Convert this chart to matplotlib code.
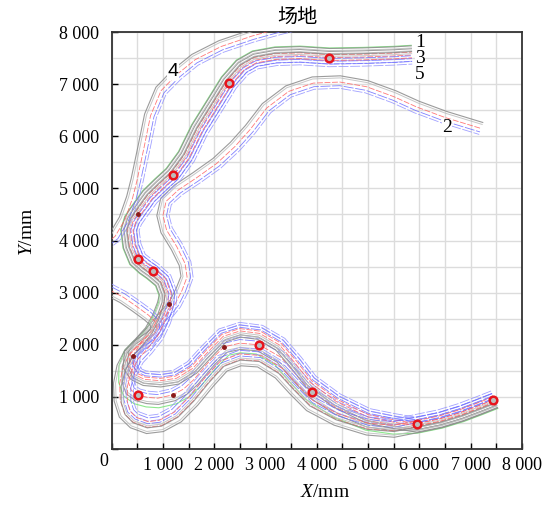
import numpy as np
import matplotlib
matplotlib.use('Agg')
import matplotlib.pyplot as plt
from matplotlib.ticker import MultipleLocator, FuncFormatter

plt.rcParams['font.family'] = ['Liberation Serif', 'Noto Sans CJK SC']
plt.rcParams['mathtext.fontset'] = 'custom'
plt.rcParams['mathtext.it'] = 'Liberation Serif:italic'
plt.rcParams['mathtext.rm'] = 'Liberation Serif'

# path centre lines (mm)
START = [(7460, 950), (7150, 830), (6800, 700), (6400, 580), (5945, 488)]
BAND_M = [(5500, 470), (5000, 540), (4400, 780), (3899, 1098), (3600, 1420), (3300, 1760),
          (2877, 1998), (2500, 2030), (2190, 1960), (1900, 1680), (1600, 1330), (1400, 1150),
          (1195, 1040), (900, 975), (700, 990), (507, 1040)]
BAND_T = [(5500, 560), (5000, 660), (4400, 950), (3900, 1310), (3600, 1690), (3300, 2030),
          (2900, 2260), (2500, 2310), (2150, 2200), (1850, 1900), (1550, 1580), (1250, 1400),
          (950, 1355), (650, 1380)]
BAND_B = [(5500, 400), (5000, 440), (4400, 620), (3900, 880), (3600, 1180), (3300, 1500),
          (2900, 1740), (2500, 1770), (2150, 1640), (1850, 1320), (1550, 960), (1250, 660),
          (950, 500), (700, 470), (450, 560)]
MAIN_LOW = [(380, 1130), (320, 1300), (324, 1566), (409, 1792), (540, 1920), (682, 2017),
            (877, 2274), (1006, 2530), (1100, 2788)]
B_LEFT_3 = [(300, 700), (220, 950), (210, 1250), (270, 1550), (400, 1800), (600, 2000),
            (800, 2220), (950, 2480), (1060, 2760)]
B_LEFT_5 = [(320, 690), (250, 900), (250, 1200), (330, 1500), (470, 1760), (650, 1950),
            (850, 2200), (980, 2470), (1080, 2760)]
MAIN_S = [(1104, 2981), (1006, 3237), (799, 3416), (650, 3520), (507, 3642), (400, 3900),
          (360, 4200), (420, 4380), (507, 4509), (746, 4836), (960, 5040)]
MAIN_UP = [(1201, 5260), (1460, 5610), (1720, 6130), (2050, 6650), (2287, 7027), (2550, 7320),
           (2800, 7460), (3200, 7530), (3670, 7545), (4242, 7509), (4900, 7520), (5500, 7540),
           (5850, 7560)]
P2_MID = [(500, 1450), (420, 1620), (450, 1850), (580, 2050), (780, 2250), (950, 2450),
          (1100, 2620), (1240, 2790), (1370, 3040), (1470, 3300), (1430, 3560), (1270, 3880),
          (1070, 4200), (1000, 4480), (1060, 4750), (1300, 4970)]
P2_UP = [(1650, 5200), (2050, 5480), (2400, 5800), (2700, 6130), (3020, 6540), (3450, 6860),
         (3930, 7020), (4450, 7040), (4970, 6950), (5500, 6760), (5950, 6560), (6500, 6360),
         (7200, 6150)]
P4_MID = [(480, 1460), (380, 1600), (400, 1800), (550, 1950), (780, 2100), (920, 2250),
          (900, 2450), (750, 2600), (500, 2780), (250, 2950), (0, 3080), (-300, 3250),
          (-500, 3550), (-350, 3800), (-100, 3900)]
P4_UP = [(100, 4050), (300, 4380), (450, 4800), (540, 5150), (680, 5800), (800, 6380),
         (1000, 6850), (1300, 7150), (1650, 7430), (2150, 7680), (2750, 7880), (3300, 8030),
         (3800, 8150)]

paths = {
    '1': START + BAND_M + MAIN_LOW + MAIN_S + MAIN_UP,
    '2': START + BAND_T + P2_MID + P2_UP,
    '3': START + BAND_B + B_LEFT_3 + MAIN_S + MAIN_UP,
    '4': START + BAND_T + P4_MID + P4_UP,
    '5': START + BAND_B + B_LEFT_5 + MAIN_S + MAIN_UP,
}
shift = {'1': 0, '2': 0, '3': 55, '4': 45, '5': -55}

waypoints = [(7440, 940), (5945, 488), (3899, 1098), (2877, 1998), (507, 1040),
             (507, 3642), (799, 3416), (1201, 5260), (2287, 7027), (4242, 7509)]
dots = [(507, 4509), (1117, 2788), (409, 1792), (1195, 1040), (2190, 1960)]

labels = ['1', '3', '5', '2', '4']
label_pos = [(6010, 7800), (6010, 7495), (6010, 7190), (6540, 6166), (1195, 7245)]

# offset, colour, style, width
layers = [(120, '#8a8a8a', '-', 0.8), (80, '#bdbdbd', '-', 0.7),
          (0, '#ff6060', (0, (7, 2)), 0.6),
          (-70, '#6a6aff', (0, (12, 2)), 0.6), (-120, '#9090ff', (0, (12, 2)), 0.6)]


def normals(pts):
    xy = np.array(pts, float)
    t = np.gradient(xy, axis=0)
    t /= np.hypot(t[:, 0], t[:, 1])[:, None]
    return xy, np.column_stack([-t[:, 1], t[:, 0]])


fig = plt.figure(figsize=(5.51, 5.05), dpi=100)
ax = fig.add_axes([0.2027, 0.1109, 0.7447, 0.8257])

# green outer envelope of path 1
xy, n = normals(paths['1'])
g = xy + n * 185
ax.plot(g[:, 0], g[:, 1], color='#80e680', lw=0.8, alpha=0.9, zorder=2)

for k, pts in paths.items():
    xy, n = normals(pts)
    for d, c, ls, lw in layers:
        o = xy + n * (d + shift[k])
        ax.plot(o[:, 0], o[:, 1], color=c, ls=ls, lw=lw, alpha=0.85, zorder=3)

dx, dy = zip(*dots)
ax.plot(dx, dy, 'o', ms=2.5, color='#8b1a1a', zorder=4)
wx, wy = zip(*waypoints)
ax.plot(wx, wy, 'o', ms=5.5, mfc='#bdbdbd', mec='#e8141c', mew=1.8, zorder=5)

for s, (x, y) in zip(labels, label_pos):
    fam = ['Liberation Sans'] if s == '4' else ['Liberation Serif']
    ax.text(x, y, s, fontsize=14, family=fam, ha='center', va='center', zorder=6,
            bbox=dict(fc='white', ec='none', pad=0.3))

ax.set_xlim(0, 8000)
ax.set_ylim(0, 8000)
ax.xaxis.set_major_locator(MultipleLocator(1000))
ax.yaxis.set_major_locator(MultipleLocator(1000))
ax.xaxis.set_minor_locator(MultipleLocator(500))
ax.yaxis.set_minor_locator(MultipleLocator(500))
fmt = FuncFormatter(lambda v, p: '' if v == 0 else f'{int(v):,}'.replace(',', ' '))
ax.xaxis.set_major_formatter(fmt)
ax.yaxis.set_major_formatter(fmt)
ax.tick_params(which='both', direction='in', length=4, width=1, labelsize=13,
               top=False, right=False)
ax.tick_params(axis='x', pad=6)
ax.tick_params(axis='y', pad=9)
ax.tick_params(axis='y', which='minor', length=0)
ax.grid(which='both', color='#dcdcdc', lw=1.0, zorder=0)
ax.set_axisbelow(True)
for sp in ax.spines.values():
    sp.set_color('#333333')
    sp.set_linewidth(1.3)

ax.set_xlabel('$X$/mm', fontsize=14)
ax.xaxis.set_label_coords(0.52, -0.085)
ax.set_ylabel('$Y$/mm', fontsize=14)
ax.yaxis.set_label_coords(-0.185, 0.52)
fig.text(104 / 551, 1 - 462 / 505, '0', fontsize=13, ha='center', va='center')
fig.text(297 / 551, 1 - 17 / 505, '场地', fontsize=14.5, family=['Noto Sans CJK SC'],
         ha='center', va='center')

fig.savefig('out.png', dpi=100)
